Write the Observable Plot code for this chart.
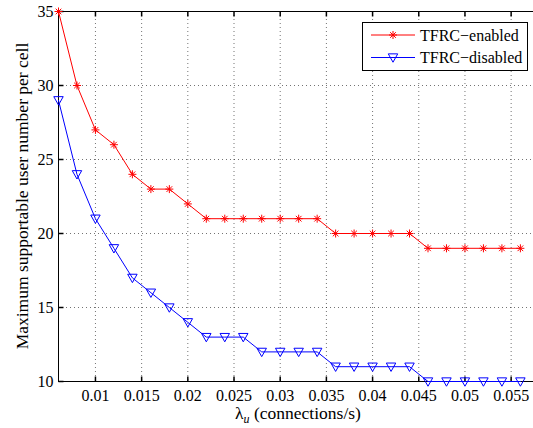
<!DOCTYPE html>
<html>
<head>
<meta charset="utf-8">
<script src="https://cdn.jsdelivr.net/npm/d3@7"></script>
<script src="https://cdn.jsdelivr.net/npm/@observablehq/plot@0.6"></script>
</head>
<body style="margin:0;background:white">
<div id="chart"></div>
<script>
const lambdaU = [0.006, 0.008, 0.010, 0.012, 0.014, 0.016, 0.018, 0.020, 0.022, 0.024, 0.026, 0.028, 0.030,
                 0.032, 0.034, 0.036, 0.038, 0.040, 0.042, 0.044, 0.046, 0.048, 0.050, 0.052, 0.054, 0.056];
const tfrcEnabled  = [35, 30, 27, 26, 24, 23, 23, 22, 21, 21, 21, 21, 21, 21, 21, 20, 20, 20, 20, 20, 19, 19, 19, 19, 19, 19];
const tfrcDisabled = [29, 24, 21, 19, 17, 16, 15, 14, 13, 13, 13, 12, 12, 12, 12, 11, 11, 11, 11, 11, 10, 10, 10, 10, 10, 10];
const xTicks = [0.01, 0.015, 0.02, 0.025, 0.03, 0.035, 0.04, 0.045, 0.05, 0.055];
const yTicks = [10, 15, 20, 25, 30, 35];
const seriesNames = ["TFRC\u2212enabled", "TFRC\u2212disabled"];
const seriesColors = ["#ff0000", "#0000ff"];

const enabledData = lambdaU.map((x, i) => ({x, y: tfrcEnabled[i]}));
const disabledData = lambdaU.map((x, i) => ({x, y: tfrcDisabled[i]}));

const rad = size => Math.sqrt(size / Math.PI);
const asterisk = {
  draw(ctx, size) {
    const r = rad(size), d = r * Math.SQRT1_2;
    ctx.moveTo(-r, 0); ctx.lineTo(r, 0);
    ctx.moveTo(0, -r); ctx.lineTo(0, r);
    ctx.moveTo(-d, -d); ctx.lineTo(d, d);
    ctx.moveTo(-d, d); ctx.lineTo(d, -d);
  }
};
const triDown = {
  draw(ctx, size) {
    const r = rad(size);
    ctx.moveTo(-r * 1.1, -r * 0.85);
    ctx.lineTo(r * 1.1, -r * 0.85);
    ctx.lineTo(0, r * 1.1);
    ctx.closePath();
  }
};
const tickUp = { draw(ctx) { ctx.moveTo(0, 0); ctx.lineTo(0, -5); } };
const tickDown = { draw(ctx) { ctx.moveTo(0, 0); ctx.lineTo(0, 5); } };
const tickRight = { draw(ctx) { ctx.moveTo(0, 0); ctx.lineTo(5, 0); } };

const xMin = 0.006, xMax = 0.05742, yMin = 10, yMax = 35;
const FONT = "Liberation Serif";

const plot = Plot.plot({
  width: 533,
  height: 428,
  marginLeft: 58,
  marginRight: 0,
  marginTop: 11,
  marginBottom: 47,
  x: {domain: [xMin, xMax]},
  y: {domain: [yMin, yMax]},
  style: "font-family: Liberation Serif; font-size: 16px; background: white;",
  marks: [
    Plot.gridX(xTicks, {stroke: "#000", strokeOpacity: 0.55, strokeDasharray: "1,3"}),
    Plot.gridY(yTicks.slice(1, -1), {stroke: "#000", strokeOpacity: 0.55, strokeDasharray: "1,3"}),
    Plot.ruleY([yMin, yMax], {stroke: "black", strokeWidth: 1}),
    Plot.ruleX([xMin], {stroke: "black", strokeWidth: 1}),
    Plot.dot(xTicks.map(x => ({x, y: yMin})), {x: "x", y: "y", symbol: tickUp, stroke: "black", fill: "none"}),
    Plot.dot(xTicks.map(x => ({x, y: yMax})), {x: "x", y: "y", symbol: tickDown, stroke: "black", fill: "none"}),
    Plot.dot(yTicks.map(y => ({x: xMin, y})), {x: "x", y: "y", symbol: tickRight, stroke: "black", fill: "none"}),
    Plot.axisX(xTicks, {tickSize: 0, tickPadding: 8, label: null, tickFormat: d => String(d), fontSize: 16}),
    Plot.axisY(yTicks, {tickSize: 0, tickPadding: 5, label: null, fontSize: 16}),
    Plot.line(enabledData, {x: "x", y: "y", stroke: seriesColors[0], strokeWidth: 1}),
    Plot.dot(enabledData, {x: "x", y: "y", symbol: asterisk, r: 4, stroke: seriesColors[0], fill: "none", strokeWidth: 1}),
    Plot.line(disabledData, {x: "x", y: "y", stroke: seriesColors[1], strokeWidth: 1}),
    Plot.dot(disabledData, {x: "x", y: "y", symbol: triDown, r: 4.3, stroke: seriesColors[1], fill: "none", strokeWidth: 1})
  ]
});

document.getElementById("chart").appendChild(plot);

const svg = d3.select(plot);
svg.attr("font-family", FONT);
svg.selectAll("text").attr("font-family", FONT);

// axis labels
const xl = svg.append("text")
  .attr("x", 298).attr("y", 419)
  .attr("text-anchor", "middle")
  .attr("font-family", FONT).attr("font-size", 17.5).attr("fill", "black");
xl.append("tspan").text("\u03bb");
xl.append("tspan").attr("font-size", 12).attr("font-style", "italic").attr("dy", 4).text("u");
xl.append("tspan").attr("dy", -4).text(" (connections/s)");

svg.append("text")
  .attr("transform", "translate(28,196) rotate(-90)")
  .attr("text-anchor", "middle")
  .attr("font-family", FONT).attr("font-size", 17.5).attr("fill", "black")
  .text("Maximum supportable user number per cell");

// legend
const lg = svg.append("g");
lg.append("rect").attr("x", 362.5).attr("y", 22.5).attr("width", 165).attr("height", 48)
  .attr("fill", "white").attr("stroke", "black").attr("stroke-width", 1);
const rows = [35, 57.5];
const symbols = [asterisk, triDown];
const sizes = [4, 4.3];
seriesNames.forEach((name, i) => {
  const y = rows[i];
  lg.append("line").attr("x1", 371).attr("x2", 415).attr("y1", y).attr("y2", y)
    .attr("stroke", seriesColors[i]).attr("stroke-width", 1);
  lg.append("path").attr("transform", `translate(393,${y})`)
    .attr("d", d3.symbol(symbols[i], sizes[i] * sizes[i] * Math.PI)())
    .attr("fill", "none").attr("stroke", seriesColors[i]);
  lg.append("text").attr("x", 420).attr("y", y).attr("dy", "0.35em")
    .attr("text-anchor", "start")
    .attr("font-family", FONT).attr("font-size", 16).attr("fill", "black").text(name);
});
</script>
</body>
</html>
